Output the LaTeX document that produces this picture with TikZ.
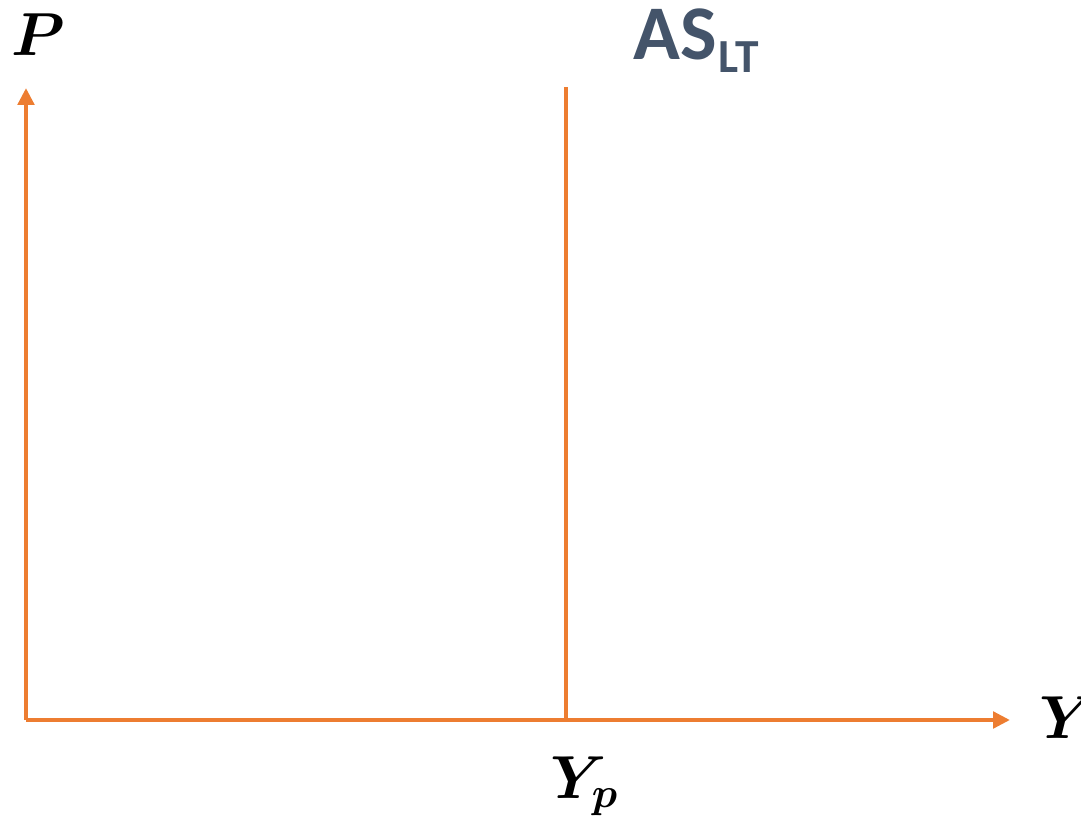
\documentclass[tikz,border=0pt]{standalone}
\usepackage{fontspec}
\usepackage{amsmath}
\usepackage{bm}
\newfontfamily\calibrifont{Carlito}
\usetikzlibrary{arrows.meta}
\definecolor{curveorange}{RGB}{237,125,49}
\definecolor{labelslate}{RGB}{68,84,106}
\tikzset{
  axis/.style={draw=curveorange,line width=1.4pt,-{Triangle[length=4.8pt,width=4.6pt]}},
  curve/.style={draw=curveorange,line width=1.4pt},
  axislabel/.style={font=\fontsize{17}{20}\selectfont,inner sep=0pt},
  curvelabel/.style={font=\calibrifont\bfseries\fontsize{22}{26}\selectfont,text=labelslate,inner sep=0pt}
}
\begin{document}
\begin{tikzpicture}[x=1cm,y=1cm]
\useasboundingbox (0,0) rectangle (10.81,8.20);
\coordinate (origin) at (0.26,1.00);
\coordinate (ptop) at (0.26,7.32);
\coordinate (yend) at (10.10,1.00);
\coordinate (asbot) at (5.66,1.00);
\coordinate (astop) at (5.66,7.33);

\draw[axis] (origin) -- (ptop);
\draw[axis] (origin) -- (yend);

\draw[curve] (asbot) -- (astop);

\node[axislabel] (plabel) at (0.38,7.85) {$\bm{P}$};
\node[axislabel] (ylabel) at (10.68,1.02) {$\bm{Y}$};
\node[axislabel,anchor=base] (yplabel) at (5.85,0.22) {$\bm{Y_p}$};
\node[curvelabel,anchor=base west] (aslabel) at (6.33,7.60) {AS\kern0.5pt\raisebox{-3.7pt}{\fontsize{13.5}{16}\selectfont LT}};
\end{tikzpicture}
\end{document}
